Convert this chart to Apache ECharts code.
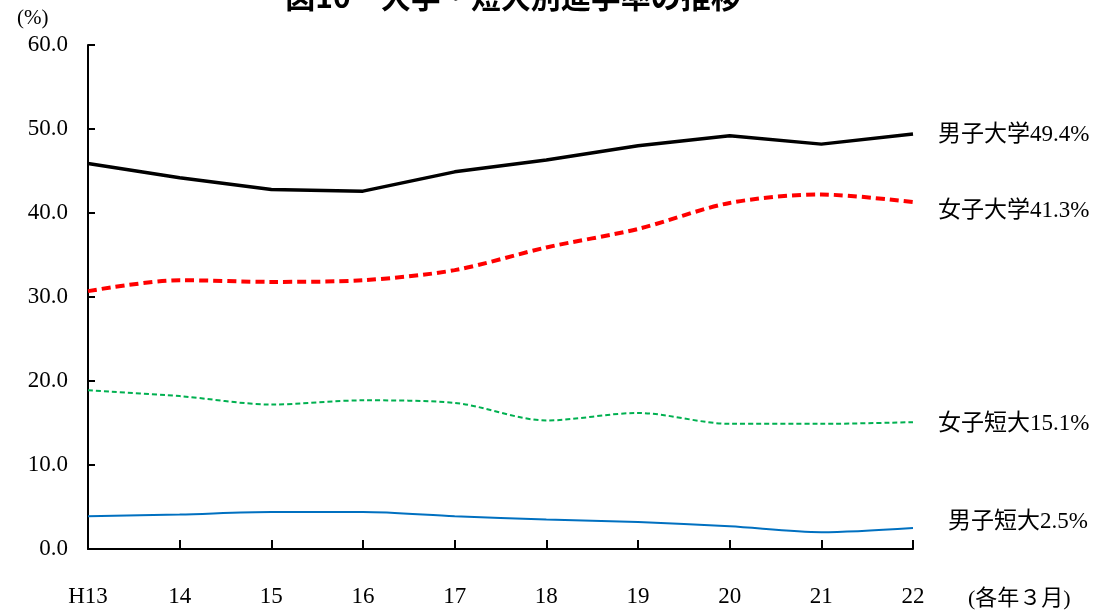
<!DOCTYPE html>
<html>
<head>
<meta charset="utf-8">
<script src="https://cdn.jsdelivr.net/npm/echarts@6/dist/echarts.min.js"></script>
<style>html,body{margin:0;padding:0;background:#fff;}#c{width:1107px;height:615px;}</style>
</head>
<body>
<div id="c"></div>
<script>
const categories = ['H13','14','15','16','17','18','19','20','21','22'];
const maleUniv   = [45.9, 44.2, 42.8, 42.6, 44.9, 46.3, 48.0, 49.2, 48.2, 49.4];
const femaleUniv = [30.7, 32.0, 31.8, 32.0, 33.2, 35.9, 38.1, 41.2, 42.2, 41.3];
const femaleJC   = [18.9, 18.2, 17.2, 17.7, 17.4, 15.3, 16.2, 14.9, 14.9, 15.1];
const maleJC     = [3.9, 4.1, 4.4, 4.4, 3.9, 3.5, 3.2, 2.7, 2.0, 2.5];
const seriesNames = ['男子大学','女子大学','女子短大','男子短大'];
const titleText = '図10　大学・短大別進学率の推移';
const yUnit = '(%)';
const xUnit = '(各年３月)';

const FONT = '"Liberation Serif","Noto Sans CJK JP",serif';
const chart = echarts.init(document.getElementById('c'));
function endLabel(dx, dy){
  return {show:true, formatter:p=>p.seriesName + p.value.toFixed(1) + '%',
    offset:[dx,dy], color:'#000', fontFamily:FONT, fontSize:23};
}
chart.setOption({
  animation:false,
  title:{text:titleText, left:508, textAlign:'center', top:-23,
    textStyle:{fontSize:30, fontWeight:'bold', color:'#000', fontFamily:'"Noto Sans CJK JP",sans-serif'}},
  graphic:[
    {type:'text', left:17, top:8, style:{text:yUnit, fontSize:21, fontFamily:FONT, fill:'#000'}},
    {type:'text', left:968, top:588, style:{text:xUnit, fontSize:22, fontFamily:FONT, fill:'#000'}}
  ],
  grid:{left:88, right:194, top:45, bottom:66},
  xAxis:{type:'category', data:categories, boundaryGap:false,
    axisLine:{lineStyle:{color:'#000', width:2}},
    axisTick:{inside:true, length:9, lineStyle:{color:'#000', width:2}},
    axisLabel:{margin:36, fontSize:23, fontFamily:FONT, color:'#000'},
    splitLine:{show:false}},
  yAxis:{type:'value', min:0, max:60, interval:10,
    axisLine:{show:true, lineStyle:{color:'#000', width:2}},
    axisTick:{show:true, inside:true, length:7, lineStyle:{color:'#000', width:2}},
    axisLabel:{margin:20, fontSize:23, fontFamily:FONT, color:'#000', formatter:v=>v.toFixed(1)},
    splitLine:{show:false}},
  series:[
    {name:seriesNames[0], type:'line', data:maleUniv, symbol:'none', smooth:false,
      lineStyle:{color:'#000', width:3.5}, endLabel:endLabel(17,1)},
    {name:seriesNames[1], type:'line', data:femaleUniv, symbol:'none', smooth:0.3,
      lineStyle:{color:'#ff0000', width:4, type:[9,5]}, endLabel:endLabel(17,9)},
    {name:seriesNames[2], type:'line', data:femaleJC, symbol:'none', smooth:0.3,
      lineStyle:{color:'#00b050', width:2, type:[5,3]}, endLabel:endLabel(17,2)},
    {name:seriesNames[3], type:'line', data:maleJC, symbol:'none', smooth:0.3,
      lineStyle:{color:'#0070c0', width:2}, endLabel:endLabel(27,-6)}
  ]
});
</script>
</body>
</html>
